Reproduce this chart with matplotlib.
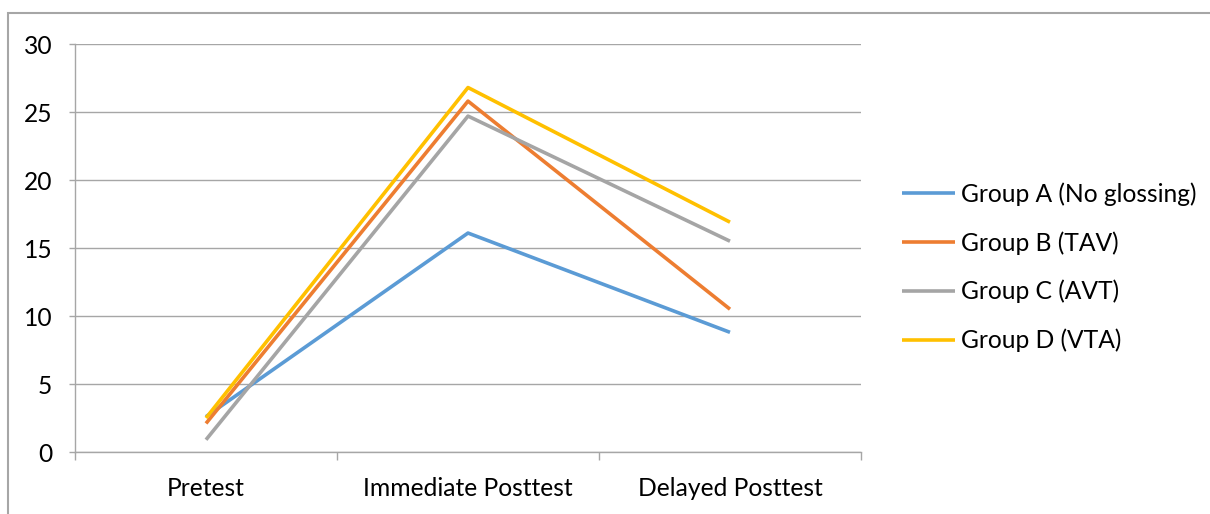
import numpy as np
import matplotlib.pyplot as plt
from matplotlib.patches import Rectangle

plt.rcParams['font.family'] = ['Lato', 'DejaVu Sans']

# data
tests = ['Pretest', 'Immediate Posttest', 'Delayed Posttest']
group_a = [2.6, 16.1, 8.8]
group_b = [2.1, 25.8, 10.5]
group_c = [0.9, 24.7, 15.5]
group_d = [2.5, 26.8, 16.9]
labels = ['Group A (No glossing)', 'Group B (TAV)', 'Group C (AVT)', 'Group D (VTA)']
colors = ['#5B9BD5', '#ED7D31', '#A5A5A5', '#FFC000']

fig = plt.figure(figsize=(12.1, 5.14), dpi=100)
ax = fig.add_axes([75/1210, 1-452/514, 786/1210, 408/514])

# outer chart frame (runs off the right and bottom of the image)
fig.patches.append(Rectangle((8/1210, -0.1), 1.2, 1-13/514+0.1, transform=fig.transFigure,
                             fill=False, edgecolor='#A6A6A6', lw=1.5))

x = np.arange(len(tests))
for vals, lab, c in zip([group_a, group_b, group_c, group_d], labels, colors):
    ax.plot(x, vals, color=c, lw=2.6, label=lab, solid_capstyle='butt')

ax.set_xlim(-0.5, 2.5)
ax.set_ylim(0, 30)
ax.set_yticks(np.arange(0, 31, 5))
ax.set_xticks(x)
ax.set_xticklabels(tests)
ax.set_xticks(np.arange(-0.5, 2.6, 1), minor=True)
ax.tick_params(axis='x', which='major', length=0, pad=18, labelsize=17.7)
ax.tick_params(axis='x', which='minor', length=5.8, color='#A6A6A6', width=1)
ax.tick_params(axis='y', length=4.3, color='#A6A6A6', width=1, pad=12, labelsize=17.7)
ax.grid(axis='y', color='#A6A6A6', lw=1)
ax.set_axisbelow(True)
for s in ['top', 'right']:
    ax.spines[s].set_visible(False)
for s in ['left', 'bottom']:
    ax.spines[s].set_color('#A6A6A6')
    ax.spines[s].set_linewidth(1)

ax.legend(loc='upper left', bbox_to_anchor=(902/1210, 1-182/514), bbox_transform=fig.transFigure,
          frameon=False, fontsize=17.7, handlelength=2.15, handletextpad=0.25, labelspacing=1.03,
          borderaxespad=0, borderpad=0)

fig.savefig('out.png', dpi=100)
